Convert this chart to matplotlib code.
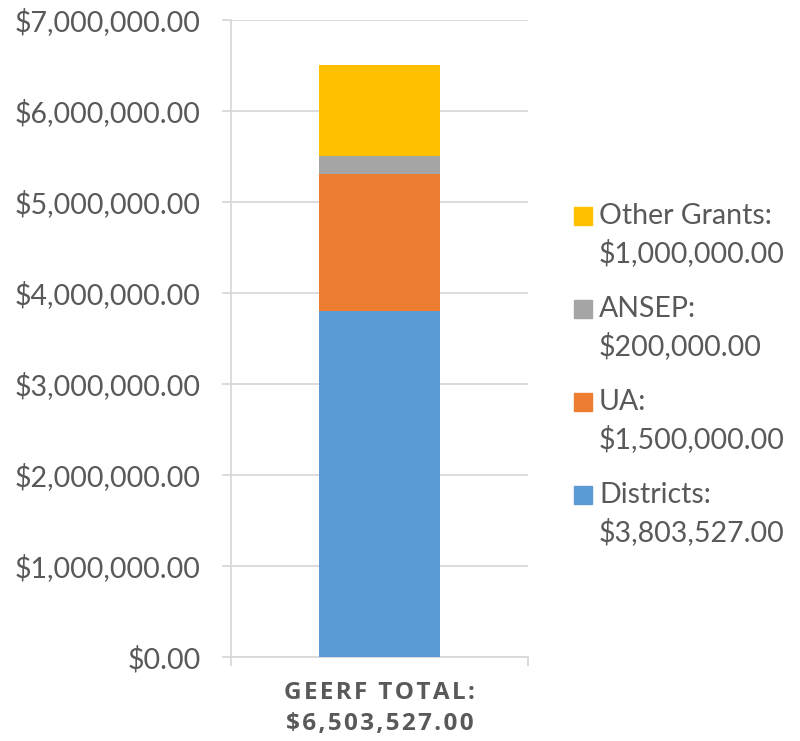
import matplotlib.pyplot as plt
from matplotlib.patches import Rectangle
from matplotlib.ticker import FuncFormatter

# data
category = 'GEERF TOTAL:\n$6,503,527.00'
series = ['Districts', 'UA', 'ANSEP', 'Other Grants']
values = [3803527.00, 1500000.00, 200000.00, 1000000.00]
colors = ['#5B9BD5', '#ED7D31', '#A5A5A5', '#FFC000']

plt.rcParams['font.family'] = ['Lato', 'DejaVu Sans']
txt = '#595959'
grid = '#D9D9D9'

W, H = 800, 741
fig = plt.figure(figsize=(W / 100, H / 100), dpi=100)
ax = fig.add_axes([231 / W, 1 - 657 / H, 297 / W, 637 / H])

bottom = 0
for name, v, c in zip(series, values, colors):
    ax.bar(0, v, width=0.41, bottom=bottom, color=c, zorder=3)
    bottom += v

ax.set_xlim(-0.5, 0.5)
ax.set_ylim(0, 7000000)
ax.set_yticks(range(0, 7000001, 1000000))
ax.yaxis.set_major_formatter(FuncFormatter(lambda y, p: f'${y:,.2f}'))
ax.grid(axis='y', color=grid, linewidth=1.3, zorder=0)

for s in ['top', 'right']:
    ax.spines[s].set_visible(False)
for s in ['left', 'bottom']:
    ax.spines[s].set_color(grid)
    ax.spines[s].set_linewidth(1.3)

ax.tick_params(axis='y', colors=grid, labelcolor=txt, labelsize=20.5, length=6.5, width=1.3, pad=15.5)
ax.set_xticks([-0.5, 0.5])
ax.set_xticklabels([])
ax.tick_params(axis='x', colors=grid, length=6.5, width=1.3)

# letter-spaced bold category label
spaced = '\n'.join('\u200a'.join(line) for line in category.split('\n'))
ax.text(0, -0.038, spaced, transform=ax.get_xaxis_transform(),
        ha='center', va='top', fontsize=17.5, fontweight='bold', color=txt,
        linespacing=1.4, family=['Open Sans', 'DejaVu Sans'])

# legend, top entry first, handle next to the first line
for i, (name, v, c) in enumerate(zip(series[::-1], values[::-1], colors[::-1])):
    yc = 216 + i * 93
    fig.add_artist(Rectangle((574 / W, 1 - (yc + 9) / H), 18 / W, 18 / H,
                             transform=fig.transFigure, color=c))
    fig.text(599 / W, 1 - yc / H, f'{name}:', ha='left', va='center',
             fontsize=20.5, color=txt)
    fig.text(599 / W, 1 - (yc + 37) / H, f'${v:,.2f}', ha='left', va='center',
             fontsize=20.5, color=txt)

fig.savefig('out.png', dpi=100)
